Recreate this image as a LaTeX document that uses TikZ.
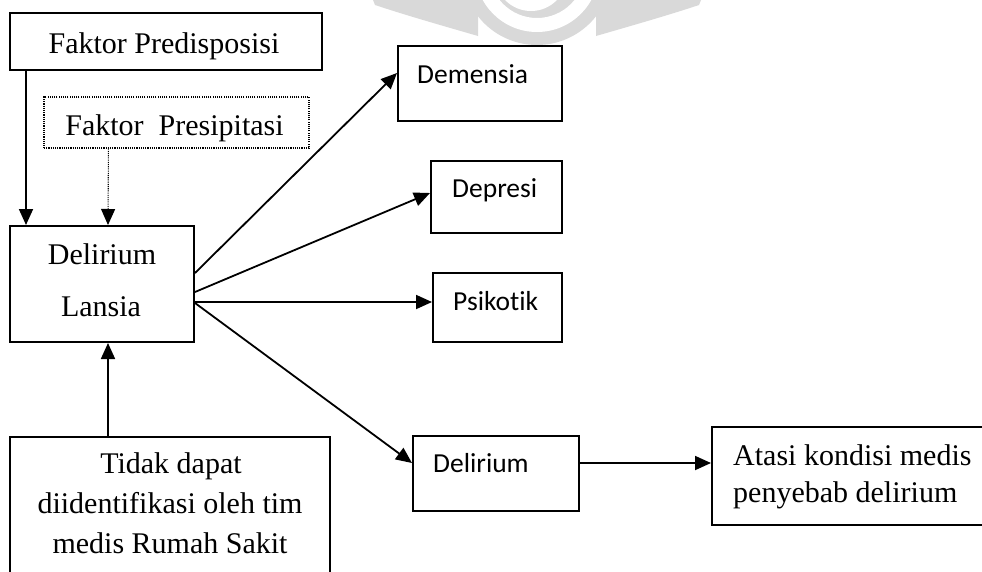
\documentclass[tikz,border=0pt]{standalone}
\usepackage{fontspec}
\setmainfont{Liberation Serif}
\newfontfamily\calfont[Ligatures=NoCommon]{Carlito}
\usetikzlibrary{arrows.meta}

\tikzset{
  box/.style={draw, line width=2pt, inner sep=0pt, minimum width=#1},
  dotbox/.style={draw, line width=1.1pt, dash pattern=on 1.1pt off 1.1pt, inner sep=0pt},
  serif/.style={inner sep=0pt, font=\fontsize{30}{36}\selectfont},
  sans/.style={inner sep=0pt, font=\calfont\fontsize{27.5}{33}\selectfont},
  arr/.style={line width=1.8pt, -{Triangle[length=16pt,width=14pt]}},
  dotarr/.style={line width=1.1pt, dash pattern=on 1.1pt off 1.1pt,
    -{Triangle[length=16pt,width=14pt]}},
  wmark/.style={fill=black!15, draw=none}
}

\begin{document}
\begin{tikzpicture}[x=1pt, y=-1pt]
\useasboundingbox (0,0) rectangle (982,571);
\clip (0,0) rectangle (982,571);

% faint emblem in the page background
\fill[wmark] (373,0) -- (375,5) .. controls (405,15) and (440,25) .. (478,36) -- (478,0) -- cycle;
\fill[wmark] (701,0) -- (699,5) .. controls (669,15) and (634,25) .. (596,36) -- (596,0) -- cycle;
\fill[wmark] (537,-30) circle[radius=75pt];
\fill[white, even odd rule] (537,-30) circle[radius=62pt] (537,-30) circle[radius=48pt];
\fill[white] (531,-25) circle[radius=36pt];

% boxes
\node[box=312pt, minimum height=57pt] (pred) at (166,41.5) {};
\node[dotbox, minimum width=265pt, minimum height=51pt] (pres) at (176.5,122.5) {};
\node[box=184pt, minimum height=116pt] (lansia) at (102,284) {};
\node[box=320pt, minimum height=180pt] (tidak) at (170,527) {};
\node[box=164pt, minimum height=75pt] (dem) at (480,83.5) {};
\node[box=131pt, minimum height=72pt] (dep) at (496.5,197) {};
\node[box=129pt, minimum height=69pt] (psi) at (497.5,307.5) {};
\node[box=166pt, minimum height=75pt] (del) at (496,473.5) {};
\node[box=278pt, minimum height=98pt] (atasi) at (851,476) {};

% texts
\node[serif, anchor=base] (pred-t) at (164,53) {Faktor Predisposisi};
\node[serif, anchor=base] (pres-t) at (174.5,135) {Faktor\ \ Presipitasi};
\node[serif, anchor=base] (lansia-t1) at (102,264) {Delirium};
\node[serif, anchor=base] (lansia-t2) at (101,316) {Lansia};
\node[serif, anchor=base] (tidak-t1) at (171,473) {Tidak dapat};
\node[serif, anchor=base] (tidak-t2) at (170,513) {diidentifikasi oleh tim};
\node[serif, anchor=base] (tidak-t3) at (170,553) {medis Rumah Sakit};
\node[sans, anchor=base west] (dem-t) at (417,83) {Demensia};
\node[sans, anchor=base west] (dep-t) at (452,197) {Depresi};
\node[sans, anchor=base west] (psi-t) at (453,310) {Psikotik};
\node[sans, anchor=base west] (del-t) at (433,472) {Delirium};
\node[serif, anchor=base west] (atasi-t1) at (733,465) {Atasi kondisi medis};
\node[serif, anchor=base west] (atasi-t2) at (733,502) {penyebab delirium};

% connectors
\draw[arr] ([xshift=17pt]pred.south west) -- ([xshift=17pt]lansia.north west);
\draw[dotarr] ([xshift=65pt]pres.south west) -- ([xshift=99pt]lansia.north west);
\draw[arr] ([xshift=99pt]tidak.north west) -- ([xshift=99pt]lansia.south west);
\draw[arr] ([yshift=11pt]lansia.east) -- ([yshift=10.5pt]dem.west);
\draw[arr] ([yshift=-8pt]lansia.east) -- ([yshift=4pt]dep.west);
\draw[arr] ([yshift=-18pt]lansia.east) -- ([yshift=5.5pt]psi.west);
\draw[arr] ([yshift=-19pt]lansia.east) -- ([yshift=10.5pt]del.west);
\draw[arr] ([yshift=10.5pt]del.east) -- ([yshift=13pt]atasi.west);
\end{tikzpicture}
\end{document}
